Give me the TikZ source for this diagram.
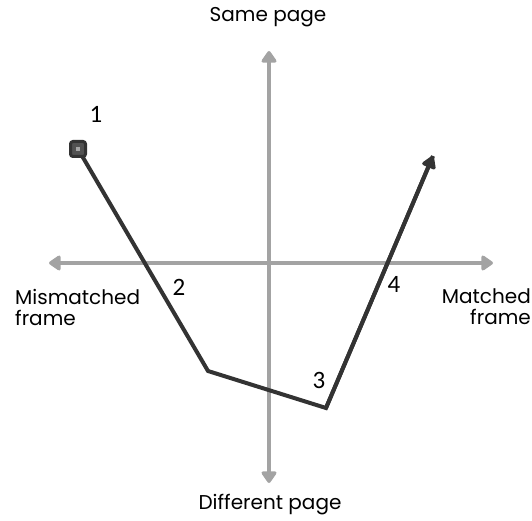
\documentclass[tikz,border=0pt]{standalone}
\usepackage{fontspec}
\setmainfont{Poppins}
\newfontfamily\numfont{Carlito}
\usetikzlibrary{arrows.meta}
\definecolor{axisgray}{HTML}{A3A3A3}
\definecolor{pathdark}{HTML}{333333}
\begin{document}
\begin{tikzpicture}[x=1pt,y=-1pt,
  axisline/.style={draw=axisgray,line width=4.2pt,-{Triangle[length=13pt,width=17pt,round]}},
  pathline/.style={draw=pathdark,line width=4pt,line join=miter},
  lbl/.style={font=\fontsize{20}{21}\selectfont,text=black,inner sep=0pt},
  num/.style={font=\numfont\fontsize{25}{26}\selectfont,text=black,inner sep=0pt}]
\useasboundingbox (0,0) rectangle (532,521);
% axes
\coordinate (o) at (269,263);
\coordinate (top) at (269,51);
\coordinate (bot) at (269,483);
\coordinate (lft) at (49,263);
\coordinate (rgt) at (493,263);
\draw[axisline] (o) -- (top);
\draw[axisline] (o) -- (bot);
\draw[axisline] (o) -- (lft);
\draw[axisline] (o) -- (rgt);
% path
\coordinate (p1) at (78,149);
\coordinate (p2) at (208,371);
\coordinate (p3) at (326,408);
\coordinate (p4) at (433,156);
\draw[pathline] (p1) -- (p2) -- (p3) -- (p4);
\draw[pathline,-{Triangle[length=14pt,width=16pt,round]}] (p3) -- (p4);
\node[draw=pathdark,fill=pathdark!85!white,line width=3pt,rounded corners=2.5pt,minimum size=15pt,inner sep=0pt] (start) at (p1) {};
\node[fill=gray!70,minimum size=4.5pt,inner sep=0pt] (startc) at (p1) {};
% labels
\node[lbl] (same) at (268,17) {Same page};
\node[lbl] (diff) at (270,505) {Different page};
\node[lbl,anchor=north west,align=left] (mis) at (15,289) {Mismatched\\frame};
\node[lbl,anchor=north east,align=right] (mat) at (531,288) {Matched\\frame};
\node[num] (n1) at (96,114) {1};
\node[num] (n2) at (179,287) {2};
\node[num] (n3) at (319,380) {3};
\node[num] (n4) at (394,284) {4};
\end{tikzpicture}
\end{document}
